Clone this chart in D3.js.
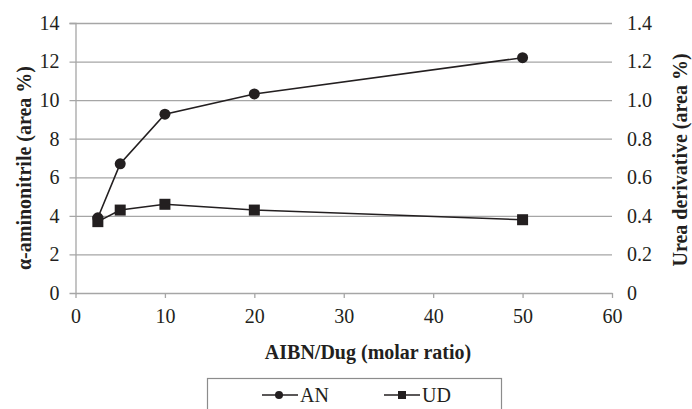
<!DOCTYPE html>
<html>
<head>
<meta charset="utf-8">
<script src="https://cdn.jsdelivr.net/npm/d3@7"></script>
<style>
  html, body { margin: 0; padding: 0; background: #fff; }
  svg { display: block; font-family: "Liberation Serif", "Times New Roman", serif; }
</style>
</head>
<body>
<script>
// x values (AIBN/Dug molar ratio)
var ratios = [2.5, 5, 10, 20, 50];
// alpha-aminonitrile, area % (left axis)
var anValues = [3.9, 6.7, 9.27, 10.32, 12.2];
// urea derivative, area % (right axis)
var udValues = [0.37, 0.43, 0.46, 0.43, 0.38];
var xTicks = [0, 10, 20, 30, 40, 50, 60];
var leftTicks = [0, 2, 4, 6, 8, 10, 12, 14];
var rightTicks = [0, 0.2, 0.4, 0.6, 0.8, 1.0, 1.2, 1.4];

var width = 692, height = 409;
var ink = "#231f20";
var gridColor = "#a6a6a6";

var svg = d3.select("body").append("svg")
    .attr("width", width)
    .attr("height", height);

var x = d3.scaleLinear().domain([0, 60]).range([75.5, 612]);
var yL = d3.scaleLinear().domain([0, 14]).range([293, 23]);
var yR = d3.scaleLinear().domain([0, 1.4]).range([293, 23]);

// horizontal gridlines + left ticks
var yAxisL = svg.append("g")
    .attr("transform", "translate(" + x(0) + ",0)")
    .call(d3.axisLeft(yL).tickValues(leftTicks).tickSize(6).tickPadding(10));
yAxisL.select(".domain").attr("stroke", gridColor).attr("stroke-width", 1.3);
yAxisL.selectAll(".tick line").attr("stroke", gridColor).attr("stroke-width", 1.3)
    .attr("x2", d => d === 0 ? -6 : x(60) - x(0))
    .attr("x1", -6);
yAxisL.selectAll(".tick text").attr("fill", ink).style("font-size", "20px")
    .style("font-family", "Liberation Serif");

// right labels (no ticks)
var yAxisR = svg.append("g")
    .attr("transform", "translate(" + x(60) + ",0)")
    .call(d3.axisRight(yR).tickValues(rightTicks).tickSize(0).tickPadding(15)
        .tickFormat(d => d === 0 ? "0" : d3.format(".1f")(d)));
yAxisR.select(".domain").remove();
yAxisR.selectAll(".tick text").attr("fill", ink).style("font-size", "20px")
    .style("font-family", "Liberation Serif");

// bottom axis
var xAxis = svg.append("g")
    .attr("transform", "translate(0," + yL(0) + ")")
    .call(d3.axisBottom(x).tickValues(xTicks).tickSize(5).tickSizeOuter(0).tickPadding(11));
xAxis.select(".domain").attr("stroke", gridColor).attr("stroke-width", 1.3);
xAxis.selectAll(".tick line").attr("stroke", gridColor).attr("stroke-width", 1.3);
xAxis.selectAll(".tick text").attr("fill", ink).style("font-size", "20px")
    .style("font-family", "Liberation Serif");

// series
var lineAN = d3.line().x((d, i) => x(ratios[i])).y(d => yL(d));
var lineUD = d3.line().x((d, i) => x(ratios[i])).y(d => yR(d));

svg.append("path").datum(udValues)
    .attr("d", lineUD).attr("fill", "none").attr("stroke", ink).attr("stroke-width", 1.6);
svg.append("path").datum(anValues)
    .attr("d", lineAN).attr("fill", "none").attr("stroke", ink).attr("stroke-width", 1.6);

svg.selectAll(".ud").data(udValues).join("rect")
    .attr("class", "ud")
    .attr("x", (d, i) => x(ratios[i]) - 5.5)
    .attr("y", d => yR(d) - 5.5)
    .attr("width", 11).attr("height", 11)
    .attr("fill", ink);
svg.selectAll(".an").data(anValues).join("circle")
    .attr("class", "an")
    .attr("cx", (d, i) => x(ratios[i]))
    .attr("cy", d => yL(d))
    .attr("r", 5.5)
    .attr("fill", ink);

// axis titles
svg.append("text")
    .attr("transform", "translate(31,168) rotate(-90)")
    .attr("text-anchor", "middle")
    .attr("font-weight", "bold").attr("font-size", 20).attr("fill", ink)
    .text("α-aminonitrile (area %)");
svg.append("text")
    .attr("transform", "translate(687,160) rotate(-90)")
    .attr("text-anchor", "middle")
    .attr("font-weight", "bold").attr("font-size", 20).attr("fill", ink)
    .text("Urea derivative (area %)");
svg.append("text")
    .attr("x", 368).attr("y", 359)
    .attr("text-anchor", "middle")
    .attr("font-weight", "bold").attr("font-size", 20).attr("fill", ink)
    .text("AIBN/Dug (molar ratio)");

// legend
var legend = svg.append("g");
legend.append("rect")
    .attr("x", 207.5).attr("y", 378.5).attr("width", 294).attr("height", 40)
    .attr("fill", "none").attr("stroke", "#8c8c8c").attr("stroke-width", 1.2);

var legendItems = [
    {name: "AN", x0: 262, shape: "circle"},
    {name: "UD", x0: 384, shape: "square"}
];
legendItems.forEach(function(it) {
    var g = legend.append("g");
    g.append("line").attr("x1", it.x0).attr("x2", it.x0 + 36)
        .attr("y1", 395).attr("y2", 395)
        .attr("stroke", ink).attr("stroke-width", 1.6);
    if (it.shape === "circle") {
        g.append("circle").attr("cx", it.x0 + 17).attr("cy", 395).attr("r", 4).attr("fill", ink);
    } else {
        g.append("rect").attr("x", it.x0 + 14).attr("y", 391).attr("width", 8).attr("height", 8).attr("fill", ink);
    }
    g.append("text").attr("x", it.x0 + 38).attr("y", 401.5)
        .attr("font-size", 20).attr("fill", ink).text(it.name);
});
</script>
</body>
</html>
